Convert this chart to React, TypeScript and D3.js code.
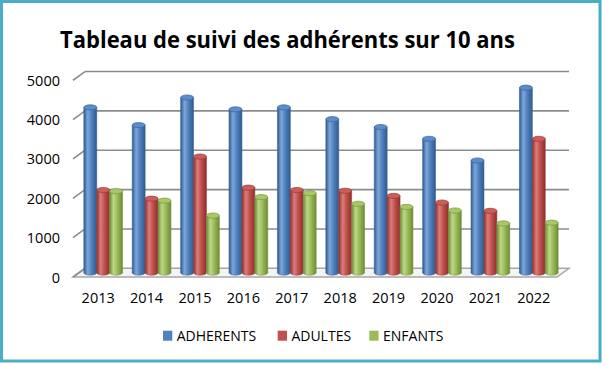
import React from 'react';
import * as d3 from 'd3';

const width = 602;
const height = 365;

const years = ['2013', '2014', '2015', '2016', '2017', '2018', '2019', '2020', '2021', '2022'];
const seriesNames = ['ADHERENTS', 'ADULTES', 'ENFANTS'];
const adherents = [4200, 3750, 4450, 4150, 4200, 3900, 3700, 3400, 2850, 4700];
const adultes = [2100, 1880, 2950, 2160, 2100, 2080, 1950, 1780, 1570, 3400];
const enfants = [2070, 1830, 1450, 1920, 2020, 1750, 1670, 1580, 1250, 1270];
const yTicks = [0, 1000, 2000, 3000, 4000, 5000];

const colors = {
  ADHERENTS: { base: '#4f81bd', dark: '#2f5a8f', light: '#7ea6da', top: '#5b8ccb', edge: '#3b6698' },
  ADULTES: { base: '#c0504d', dark: '#8e2f2d', light: '#dc7d7a', top: '#cd5d5a', edge: '#973b39' },
  ENFANTS: { base: '#9bbb59', dark: '#6c8a36', light: '#bdd787', top: '#a8c866', edge: '#78963f' },
};

// depth shift from front plane to back wall
const depthX = 12;
const depthY = -8.7;
const capRy = 2.6;

export default function App() {
  const rows = years.map((yr, i) => ({ year: yr, ADHERENTS: adherents[i], ADULTES: adultes[i], ENFANTS: enfants[i] }));

  const y = d3.scaleLinear().domain([0, 5000]).range([277, 80.25]);
  const x = d3.scaleBand().domain(years).range([73, 557]).paddingInner(0.2).paddingOuter(0.1);
  const xs = d3.scaleBand().domain(seriesNames).range([0, x.bandwidth()]);
  const x0 = 73;
  const x1 = 557;

  const font = '"Open Sans", "Liberation Sans", sans-serif';
  const floor = [
    [x0, y(0)],
    [x1, y(0)],
    [x1 + depthX, y(0) + depthY],
    [x0 + depthX, y(0) + depthY],
  ];

  return (
    <svg width={width} height={height} style={{ position: 'absolute', left: 0, top: 0 }} fontFamily={font}>
      <defs>
        {seriesNames.map((s) => (
          <linearGradient key={s} id={`g-${s}`} x1="0" x2="1" y1="0" y2="0">
            <stop offset="0" stopColor={colors[s].dark} />
            <stop offset="0.3" stopColor={colors[s].light} />
            <stop offset="0.6" stopColor={colors[s].base} />
            <stop offset="1" stopColor={colors[s].dark} />
          </linearGradient>
        ))}
      </defs>
      <rect x={0} y={0} width={width} height={height} fill="#fff" />
      <rect x={1.5} y={1.5} width={598.5} height={359.5} fill="none" stroke="#4bacc6" strokeWidth={3} />

      <text x={60} y={48} fontSize={23.5} fontWeight="bold" fill="#000" textLength={455} lengthAdjust="spacingAndGlyphs">
        Tableau de suivi des adhérents sur 10 ans
      </text>

      {/* floor */}
      <polygon points={floor.map((p) => p.join(',')).join(' ')} fill="#f4f4f4" stroke="#a6a6a6" strokeWidth={1.5} />

      {/* wall gridlines + side diagonals */}
      {yTicks.map((t) => (
        <g key={t}>
          {t > 0 && (
            <line x1={x0 + depthX} x2={x1 + depthX} y1={y(t) + depthY} y2={y(t) + depthY} stroke="#8c8c8c" strokeWidth={1.6} />
          )}
          <line x1={x0} x2={x0 + depthX} y1={y(t)} y2={y(t) + depthY} stroke="#8c8c8c" strokeWidth={1.6} />
          <text x={60} y={y(t) + 5.5} fontSize={14.5} textAnchor="end" fill="#000">
            {t}
          </text>
        </g>
      ))}

      {/* cylinders */}
      {rows.map((r) => (
        <g key={r.year}>
          {seriesNames.map((s) => {
            const w = xs.bandwidth();
            const left = (x(r.year) as number) + (xs(s) as number) + depthX / 2;
            const cx = left + w / 2;
            const base = y(0) + depthY / 2;
            const top = y(r[s]) + depthY / 2;
            const c = colors[s];
            return (
              <g key={s}>
                <ellipse cx={cx} cy={base} rx={w / 2} ry={capRy} fill={`url(#g-${s})`} stroke={c.edge} strokeWidth={0.5} />
                <rect x={left} y={top} width={w} height={base - top} fill={`url(#g-${s})`} />
                <line x1={left} x2={left} y1={top} y2={base} stroke={c.edge} strokeWidth={0.6} />
                <line x1={left + w} x2={left + w} y1={top} y2={base} stroke={c.edge} strokeWidth={0.6} />
                <ellipse cx={cx} cy={top} rx={w / 2} ry={capRy} fill={c.top} stroke={c.edge} strokeWidth={0.7} />
              </g>
            );
          })}
        </g>
      ))}

      {/* x labels */}
      {years.map((yr) => (
        <text key={yr} x={(x(yr) as number) + x.bandwidth() / 2 + 1} y={303.3} fontSize={14.5} textAnchor="middle" fill="#000">
          {yr}
        </text>
      ))}

      {/* legend */}
      {[
        { s: 'ADHERENTS', sx: 163 },
        { s: 'ADULTES', sx: 277.7 },
        { s: 'ENFANTS', sx: 369.3 },
      ].map((l) => (
        <g key={l.s}>
          <rect x={l.sx} y={330.7} width={9.3} height={10} fill={colors[l.s].base} />
          <text x={l.sx + 13.7} y={340.7} fontSize={14} fill="#000">
            {l.s}
          </text>
        </g>
      ))}
    </svg>
  );
}
